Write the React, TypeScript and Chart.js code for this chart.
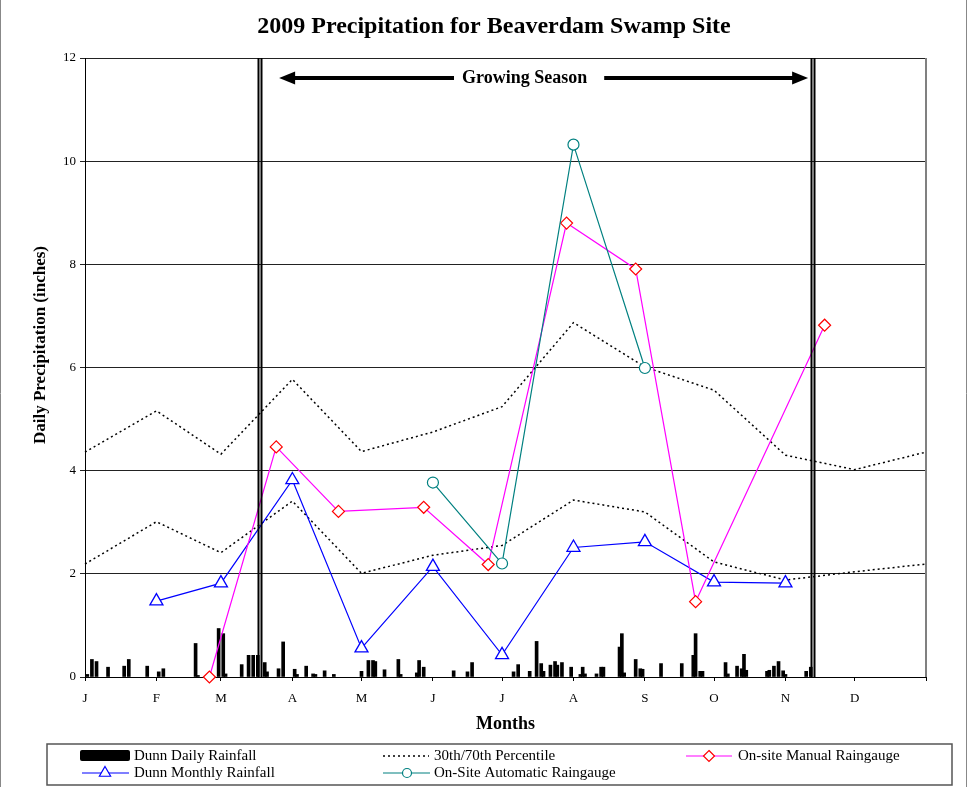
import React, { useEffect, useRef } from 'react';
import { Chart, registerables } from 'chart.js';

Chart.register(...registerables);

// ---- Data ----
const monthStarts = [0, 31, 59, 90, 120, 151, 181, 212, 243, 273, 304, 334, 365];
const monthLabels = ['J', 'F', 'M', 'A', 'M', 'J', 'J', 'A', 'S', 'O', 'N', 'D'];

const dailyDays = [1, 3, 5, 10, 17, 19, 27, 32, 34, 48, 49, 58, 60, 61, 68, 71, 73, 75, 78, 79, 84, 86, 91, 92, 96, 99, 100, 104, 108, 120, 123, 125, 126, 130, 136, 137, 144, 145, 147, 160, 166, 168, 186, 188, 193, 196, 198, 199, 202, 204, 205, 207, 211, 215, 216, 217, 222, 224, 225, 232, 233, 234, 239, 241, 242, 250, 259, 264, 265, 267, 268, 278, 279, 283, 285, 286, 287, 296, 297, 299, 301, 303, 304, 313, 315];
const dailyRain = [0.05, 0.34, 0.30, 0.19, 0.21, 0.34, 0.21, 0.10, 0.16, 0.65, 0.03, 0.94, 0.84, 0.06, 0.24, 0.42, 0.42, 0.42, 0.28, 0.10, 0.16, 0.68, 0.15, 0.05, 0.21, 0.06, 0.05, 0.12, 0.05, 0.11, 0.32, 0.32, 0.30, 0.14, 0.34, 0.05, 0.08, 0.32, 0.19, 0.12, 0.10, 0.28, 0.10, 0.24, 0.11, 0.69, 0.26, 0.11, 0.23, 0.30, 0.23, 0.28, 0.19, 0.05, 0.19, 0.06, 0.06, 0.19, 0.19, 0.58, 0.84, 0.08, 0.34, 0.16, 0.15, 0.26, 0.26, 0.42, 0.84, 0.11, 0.11, 0.28, 0.06, 0.21, 0.16, 0.44, 0.13, 0.11, 0.13, 0.21, 0.30, 0.12, 0.05, 0.11, 0.19];

const pctDays = [0, 31, 59, 90, 120, 151, 181, 212, 243, 273, 304, 334, 365];
const pct70 = [4.36, 5.16, 4.32, 5.77, 4.37, 4.75, 5.24, 6.87, 6.01, 5.56, 4.30, 4.02, 4.36];
const pct30 = [2.19, 3.01, 2.41, 3.41, 2.01, 2.36, 2.55, 3.43, 3.20, 2.23, 1.88, 2.04, 2.19];

const monthlyDays = [31, 59, 90, 120, 151, 181, 212, 243, 273, 304];
const dunnMonthly = [1.47, 1.82, 3.82, 0.56, 2.14, 0.43, 2.51, 2.62, 1.84, 1.82];

const manualDays = [54, 83, 110, 147, 175, 209, 239, 265, 321];
const manualRain = [0.0, 4.46, 3.21, 3.29, 2.18, 8.80, 7.91, 1.46, 6.82];

const autoDays = [151, 181, 212, 243];
const autoRain = [3.77, 2.20, 10.32, 5.99];

const growingStart = 76;
const growingEnd = 316;

const titleText = '2009 Precipitation for Beaverdam Swamp Site';
const yTitle = 'Daily Precipitation (inches)';
const xTitle = 'Months';
const seasonText = 'Growing Season';

const SERIF = '"Liberation Serif", "Times New Roman", serif';

function pts(xs: number[], ys: number[]) {
  return xs.map((x, i) => ({ x, y: ys[i] }));
}

function drawTriangle(ctx: CanvasRenderingContext2D, x: number, y: number, r: number) {
  ctx.beginPath();
  for (let k = 0; k < 3; k++) {
    const a = (k * 2 * Math.PI) / 3;
    const px = x + Math.sin(a) * r;
    const py = y - Math.cos(a) * r;
    if (k === 0) ctx.moveTo(px, py);
    else ctx.lineTo(px, py);
  }
  ctx.closePath();
}

const decorPlugin = {
  id: 'decor',
  afterDatasetsDraw(chart: any) {
    const { ctx, chartArea, scales } = chart;
    const { top, bottom } = chartArea;
    const xs = scales.x;
    ctx.save();
    // growing season double lines
    ctx.strokeStyle = '#000';
    ctx.lineWidth = 2;
    [growingStart, growingEnd].forEach((d) => {
      const px = Math.round(xs.getPixelForValue(d));
      [-1.5, 1.5].forEach((off) => {
        ctx.beginPath();
        ctx.moveTo(px + off, top);
        ctx.lineTo(px + off, bottom);
        ctx.stroke();
      });
    });
    // arrow
    const lx = xs.getPixelForValue(growingStart) + 19;
    const rx = xs.getPixelForValue(growingEnd) - 5;
    const ay = 78;
    const tx = (lx + rx) / 2 - 19;
    ctx.font = `bold 18px ${SERIF}`;
    ctx.textAlign = 'center';
    ctx.textBaseline = 'middle';
    const tw = ctx.measureText(seasonText).width;
    ctx.fillStyle = '#000';
    ctx.fillText(seasonText, tx, ay);
    ctx.lineWidth = 4;
    ctx.beginPath();
    ctx.moveTo(lx + 12, ay);
    ctx.lineTo(tx - tw / 2 - 8, ay);
    ctx.moveTo(tx + tw / 2 + 17, ay);
    ctx.lineTo(rx - 12, ay);
    ctx.stroke();
    ctx.beginPath();
    ctx.moveTo(lx, ay);
    ctx.lineTo(lx + 16, ay - 6.5);
    ctx.lineTo(lx + 16, ay + 6.5);
    ctx.closePath();
    ctx.fill();
    ctx.beginPath();
    ctx.moveTo(rx, ay);
    ctx.lineTo(rx - 16, ay - 6.5);
    ctx.lineTo(rx - 16, ay + 6.5);
    ctx.closePath();
    ctx.fill();
    ctx.restore();
  },
  afterDraw(chart: any) {
    const { ctx, chartArea } = chart;
    const { top, bottom, left, right } = chartArea;
    ctx.save();
    // plot right border
    ctx.strokeStyle = '#808080';
    ctx.lineWidth = 2;
    ctx.beginPath();
    ctx.moveTo(right, top);
    ctx.lineTo(right, bottom);
    ctx.stroke();
    // outer frame (left/right)
    ctx.lineWidth = 1;
    ctx.strokeStyle = '#888';
    ctx.beginPath();
    ctx.moveTo(0.5, 0);
    ctx.lineTo(0.5, 787);
    ctx.moveTo(966.5, 0);
    ctx.lineTo(966.5, 787);
    ctx.stroke();

    ctx.fillStyle = '#000';
    ctx.textAlign = 'center';
    ctx.textBaseline = 'middle';
    // title
    ctx.font = `bold 24px ${SERIF}`;
    ctx.fillText(titleText, 494, 27);
    // x title
    ctx.font = `bold 18px ${SERIF}`;
    ctx.fillText(xTitle, (left + right) / 2, 724);
    // y title
    ctx.save();
    ctx.translate(41, 345);
    ctx.rotate(-Math.PI / 2);
    ctx.font = `bold 17px ${SERIF}`;
    ctx.fillText(yTitle, 0, 0);
    ctx.restore();

    // legend
    ctx.strokeStyle = '#555';
    ctx.lineWidth = 1.5;
    ctx.strokeRect(47, 744, 905, 41);
    const r1 = 756;
    const r2 = 773;
    // daily bar
    ctx.fillStyle = '#000';
    ctx.beginPath();
    (ctx as any).roundRect ? (ctx as any).roundRect(80, 750, 50, 11, 2) : ctx.rect(80, 750, 50, 11);
    ctx.fill();
    // percentile
    ctx.strokeStyle = '#000';
    ctx.lineWidth = 1.5;
    ctx.setLineDash([2, 3]);
    ctx.beginPath();
    ctx.moveTo(383, r1);
    ctx.lineTo(429, r1);
    ctx.stroke();
    ctx.setLineDash([]);
    // manual
    ctx.strokeStyle = '#FF00FF';
    ctx.lineWidth = 1.2;
    ctx.beginPath();
    ctx.moveTo(686, r1);
    ctx.lineTo(732, r1);
    ctx.stroke();
    ctx.beginPath();
    ctx.moveTo(709, r1 - 5.5);
    ctx.lineTo(714.5, r1);
    ctx.lineTo(709, r1 + 5.5);
    ctx.lineTo(703.5, r1);
    ctx.closePath();
    ctx.fillStyle = '#fff';
    ctx.fill();
    ctx.strokeStyle = '#FF0000';
    ctx.stroke();
    // monthly
    ctx.strokeStyle = '#0000FF';
    ctx.beginPath();
    ctx.moveTo(82, r2);
    ctx.lineTo(129, r2);
    ctx.stroke();
    drawTriangle(ctx, 105, r2, 6.5);
    ctx.fillStyle = '#fff';
    ctx.fill();
    ctx.stroke();
    // automatic
    ctx.strokeStyle = '#008080';
    ctx.beginPath();
    ctx.moveTo(383, r2);
    ctx.lineTo(430, r2);
    ctx.stroke();
    ctx.beginPath();
    ctx.arc(407, r2, 4.5, 0, Math.PI * 2);
    ctx.fillStyle = '#fff';
    ctx.fill();
    ctx.stroke();
    // legend texts
    ctx.fillStyle = '#000';
    ctx.textAlign = 'left';
    ctx.font = `15px ${SERIF}`;
    ctx.fillText('Dunn Daily Rainfall', 134, r1);
    ctx.fillText('30th/70th Percentile', 434, r1);
    ctx.fillText('On-site Manual Raingauge', 738, r1);
    ctx.fillText('Dunn Monthly Rainfall', 134, r2);
    ctx.fillText('On-Site Automatic Raingauge', 434, r2);
    ctx.restore();
  },
};

export default function App() {
  const ref = useRef<HTMLCanvasElement>(null);
  useEffect(() => {
    Chart.defaults.font.family = SERIF;
    const lineBase = { type: 'line' as const, fill: false, tension: 0, clip: false as any };
    const chart = new Chart(ref.current!, {
      type: 'line',
      data: {
        datasets: [
          {
            type: 'bar',
            label: 'Dunn Daily Rainfall',
            data: pts(dailyDays, dailyRain),
            backgroundColor: '#000',
            barThickness: 3,
            order: 6,
          } as any,
          {
            ...lineBase,
            label: '30th/70th Percentile',
            data: pts(pctDays, pct70),
            borderColor: '#000',
            borderWidth: 1.5,
            borderDash: [2, 3],
            pointRadius: 0,
            order: 5,
          },
          {
            ...lineBase,
            label: '30th Percentile',
            data: pts(pctDays, pct30),
            borderColor: '#000',
            borderWidth: 1.5,
            borderDash: [2, 3],
            pointRadius: 0,
            order: 5,
          },
          {
            ...lineBase,
            label: 'Dunn Monthly Rainfall',
            data: pts(monthlyDays, dunnMonthly),
            borderColor: '#0000FF',
            borderWidth: 1.2,
            pointStyle: 'triangle',
            pointRadius: 7.5,
            pointBorderColor: '#0000FF',
            pointBackgroundColor: '#fff',
            pointBorderWidth: 1.3,
            order: 4,
          },
          {
            ...lineBase,
            label: 'On-site Manual Raingauge',
            data: pts(manualDays, manualRain),
            borderColor: '#FF00FF',
            borderWidth: 1.2,
            pointStyle: 'rectRot',
            pointRadius: 6,
            pointBorderColor: '#FF0000',
            pointBackgroundColor: '#fff',
            pointBorderWidth: 1.2,
            order: 3,
          },
          {
            ...lineBase,
            label: 'On-Site Automatic Raingauge',
            data: pts(autoDays, autoRain),
            borderColor: '#008080',
            borderWidth: 1.2,
            pointStyle: 'circle',
            pointRadius: 5.5,
            pointBorderColor: '#008080',
            pointBackgroundColor: '#fff',
            pointBorderWidth: 1.2,
            order: 2,
          },
        ],
      },
      options: {
        responsive: false,
        animation: false,
        devicePixelRatio: 1,
        events: [],
        layout: { padding: { left: 0, right: 42, top: 58, bottom: 50 } },
        plugins: {
          legend: { display: false },
          title: { display: false },
          tooltip: { enabled: false },
        },
        scales: {
          x: {
            type: 'linear',
            min: 0,
            max: 365,
            offset: false,
            afterBuildTicks: (scale: any) => {
              scale.ticks = monthStarts.map((v) => ({ value: v }));
            },
            afterFit: (scale: any) => {
              scale.height = 60;
            },
            ticks: {
              autoSkip: false,
              maxRotation: 0,
              minRotation: 0,
              padding: 10,
              color: '#000',
              font: { family: SERIF, size: 13 },
              callback: (_v: any, i: number) => monthLabels[i] ?? '',
            },
            grid: { offset: false, drawOnChartArea: false, drawTicks: true, tickLength: 4, color: '#000' },
            border: { display: true, color: '#000', width: 1 },
          },
          y: {
            min: 0,
            max: 12,
            afterFit: (scale: any) => {
              scale.width = 85;
            },
            ticks: {
              stepSize: 2,
              padding: 4,
              color: '#000',
              font: { family: SERIF, size: 13 },
            },
            grid: { color: '#222', lineWidth: 1, tickLength: 5, drawTicks: true },
            border: { display: true, color: '#000', width: 1 },
          },
        },
      } as any,
      plugins: [decorPlugin],
    });
    return () => chart.destroy();
  }, []);
  return (
    <div style={{ position: 'fixed', left: 0, top: 0, width: 968, height: 787, background: '#fff' }}>
      <canvas ref={ref} width={968} height={787} style={{ display: 'block', width: 968, height: 787 }} />
    </div>
  );
}
